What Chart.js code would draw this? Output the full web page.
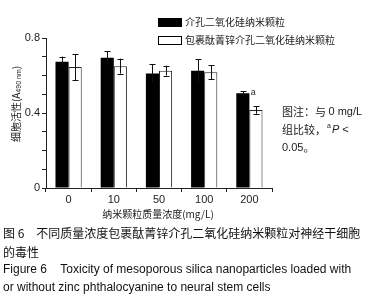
<!DOCTYPE html>
<html><head><meta charset="utf-8">
<script src="https://cdn.jsdelivr.net/npm/chart.js@4/dist/chart.umd.min.js"></script>
<style>html,body{margin:0;padding:0;background:#fff}#wrap{width:373px;height:300px;position:relative}</style>
</head><body><div id="wrap"><canvas id="c" width="373" height="300"></canvas></div>
<script>
const categories = ['0', '10', '50', '100', '200'];
const mspValues = [0.674, 0.695, 0.611, 0.626, 0.505];
const mspErrors = [0.027, 0.036, 0.049, 0.060, 0.012];
const znpcValues = [0.645, 0.650, 0.626, 0.617, 0.416];
const znpcErrors = [0.070, 0.040, 0.026, 0.038, 0.020];
const seriesLabels = ['介孔二氧化硅纳米颗粒', '包裹酞菁锌介孔二氧化硅纳米颗粒'];
const yTickLabels = [0, 0.4, 0.8];
const sigMarks = ['', '', '', '', 'a'];
const xTitle = '纳米颗粒质量浓度(mg/L)';
const yTitleMain = '细胞活性(A';
const yTitleSub = '490 nm';
const noteLines = ['图注：与 0 mg/L', '组比较，', '0.05。'];
const captionLines = ['图 6　不同质量浓度包裹酞菁锌介孔二氧化硅纳米颗粒对神经干细胞', '的毒性', 'Figure 6    Toxicity of mesoporous silica nanoparticles loaded with', 'or without zinc phthalocyanine to neural stem cells'];

const CJK = '"Noto Sans CJK SC", sans-serif';
const LAT = '"Liberation Sans", Arial, sans-serif';

const errors = [mspErrors, znpcErrors];

const extras = {
  id: 'extras',
  afterDatasetsDraw(chart) {
    const ctx = chart.ctx;
    const y = chart.scales.y;
    ctx.save();
    ctx.strokeStyle = '#111';
    ctx.lineWidth = 1;
    chart.data.datasets.forEach((ds, di) => {
      const meta = chart.getDatasetMeta(di);
      meta.data.forEach((el, i) => {
        const v = ds.data[i], e = errors[di][i];
        const x = Math.round(el.x) + 0.5;
        const yt = y.getPixelForValue(v + e), yb = y.getPixelForValue(v - e);
        ctx.beginPath();
        ctx.moveTo(x, yt); ctx.lineTo(x, yb);
        ctx.moveTo(x - 3, Math.round(yt) + 0.5); ctx.lineTo(x + 3, Math.round(yt) + 0.5);
        if (di === 1) { ctx.moveTo(x - 3, Math.round(yb) + 0.5); ctx.lineTo(x + 3, Math.round(yb) + 0.5); }
        ctx.stroke();
        if (di === 0 && sigMarks[i]) {
          ctx.fillStyle = '#222';
          ctx.font = '9px ' + LAT;
          ctx.textAlign = 'left'; ctx.textBaseline = 'middle';
          ctx.fillText(sigMarks[i], el.x + 8, y.getPixelForValue(v + e) + 1);
        }
      });
    });
    ctx.restore();
  },
  afterDraw(chart) {
    const ctx = chart.ctx;
    ctx.save();
    ctx.fillStyle = '#1a1a1a';
    // legend
    const legendRows = [{y: 18, fill: '#000'}, {y: 36, fill: '#fff'}];
    legendRows.forEach((r, i) => {
      ctx.fillStyle = r.fill;
      ctx.fillRect(158, r.y, 24, 9);
      ctx.strokeStyle = '#000'; ctx.lineWidth = 1;
      ctx.strokeRect(158.5, r.y + 0.5, 23, 8);
      ctx.fillStyle = '#1a1a1a';
      ctx.font = '10px ' + CJK;
      ctx.textAlign = 'left'; ctx.textBaseline = 'middle';
      ctx.fillText(seriesLabels[i], 185, r.y + 4.5);
    });
    // x title
    ctx.font = '10px ' + CJK;
    ctx.textAlign = 'center'; ctx.textBaseline = 'middle';
    ctx.fillText(xTitle, 158, 214);
    // y title rotated
    ctx.save();
    ctx.translate(16, 104);
    ctx.rotate(-Math.PI / 2);
    ctx.font = '10px ' + CJK;
    const w1 = ctx.measureText(yTitleMain).width;
    ctx.font = '7px ' + LAT;
    const w2 = ctx.measureText(yTitleSub).width;
    ctx.font = '10px ' + CJK;
    const w3 = ctx.measureText(')').width;
    let sx = -(w1 + w2 + w3) / 2;
    ctx.textAlign = 'left'; ctx.textBaseline = 'middle';
    ctx.fillText(yTitleMain, sx, 0); sx += w1;
    ctx.font = '7px ' + LAT; ctx.fillText(yTitleSub, sx, 3); sx += w2;
    ctx.font = '10px ' + CJK; ctx.fillText(')', sx, 0);
    ctx.restore();
    // note
    ctx.textAlign = 'left'; ctx.textBaseline = 'middle';
    ctx.font = '11px ' + CJK;
    ctx.fillText(noteLines[0].slice(0, 5), 282, 112);
    let nx = 282 + ctx.measureText(noteLines[0].slice(0, 5)).width;
    ctx.font = '11px ' + LAT;
    ctx.fillText(noteLines[0].slice(5), nx, 112);
    ctx.font = '11px ' + CJK;
    ctx.fillText(noteLines[1], 282, 130);
    nx = 282 + ctx.measureText(noteLines[1]).width + 1;
    ctx.font = '7px ' + LAT;
    ctx.fillText('a', nx, 126);
    nx += ctx.measureText('a').width + 1;
    ctx.font = 'italic 11px ' + LAT;
    ctx.fillText('P', nx, 130);
    nx += ctx.measureText('P').width;
    ctx.font = '11px ' + LAT;
    ctx.fillText(' <', nx, 130);
    ctx.fillText('0.05', 282, 148);
    const w005 = ctx.measureText('0.05').width;
    ctx.font = '11px ' + CJK;
    ctx.fillText('。', 282 + w005, 148);
    // caption
    ctx.fillStyle = '#111';
    ctx.font = '12px ' + CJK;
    ctx.fillText(captionLines[0], 3, 233);
    ctx.fillText(captionLines[1], 3, 252);
    ctx.font = '12px ' + LAT;
    ctx.fillText(captionLines[2], 3, 270);
    ctx.fillText(captionLines[3], 3, 288);
    ctx.restore();
  }
};

new Chart(document.getElementById('c'), {
  type: 'bar',
  data: {
    labels: categories,
    datasets: [
      { label: seriesLabels[0], data: mspValues, backgroundColor: '#000', borderColor: '#000', borderWidth: 0 },
      { label: seriesLabels[1], data: znpcValues, backgroundColor: '#fff', borderColor: '#222', borderWidth: 1 }
    ]
  },
  options: {
    responsive: false,
    animation: false,
    devicePixelRatio: 1,
    layout: { padding: { left: 0, top: 38, right: 101, bottom: 0 } },
    categoryPercentage: 0.58,
    barPercentage: 1.0,
    plugins: { legend: { display: false }, tooltip: { enabled: false } },
    scales: {
      x: {
        grid: { display: true, drawOnChartArea: false, offset: true, tickLength: 4, color: '#222' },
        border: { color: '#222', width: 1 },
        ticks: { color: '#222', font: { family: LAT, size: 11 }, padding: 1 },
        afterFit(s) { s.height = 112; }
      },
      y: {
        min: 0, max: 0.8,
        grid: { display: true, drawOnChartArea: false, tickLength: 4, color: '#222' },
        border: { color: '#222', width: 1 },
        ticks: {
          stepSize: 0.1, color: '#222', font: { family: LAT, size: 11 }, padding: 2,
          callback: (v) => {
            const r = Math.round(v * 10) / 10;
            return yTickLabels.some(t => Math.abs(t - r) < 1e-6) ? String(r) : '';
          }
        },
        afterFit(s) { s.width = 46; }
      }
    }
  },
  plugins: [extras]
});
</script></body></html>
